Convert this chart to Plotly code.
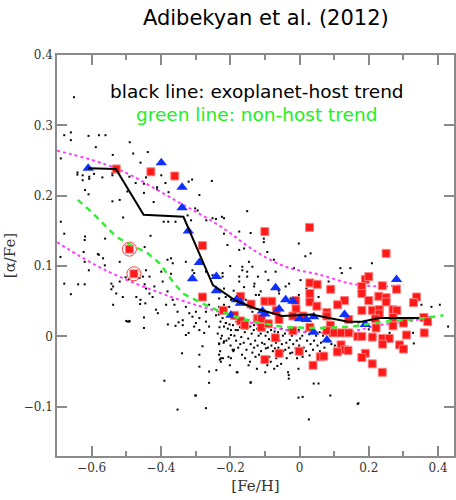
import plotly.graph_objects as go

# ---- data ----
host_trend_x = [-0.61, -0.53, -0.45, -0.335, -0.25, -0.185, -0.13, -0.05, 0.035, 0.14, 0.18, 0.23, 0.345]
host_trend_y = [0.239, 0.238, 0.173, 0.170, 0.073, 0.051, 0.040, 0.029, 0.031, 0.021, 0.021, 0.026, 0.026]

nonhost_trend_x = [-0.64, -0.596, -0.53, -0.48, -0.443, -0.404, -0.366, -0.337, -0.289, -0.241,
                   -0.174, -0.122, -0.04, 0.055, 0.151, 0.247, 0.343, 0.415]
nonhost_trend_y = [0.194, 0.175, 0.142, 0.128, 0.120, 0.104, 0.078, 0.061, 0.049, 0.038,
                   0.026, 0.020, 0.013, 0.012, 0.014, 0.021, 0.025, 0.030]

upper_env_x = [-0.70, -0.53, -0.35, -0.23, -0.13, -0.04, 0.055, 0.15, 0.23, 0.30]
upper_env_y = [0.264, 0.239, 0.191, 0.157, 0.122, 0.099, 0.088, 0.075, 0.071, 0.073]

lower_env_x = [-0.70, -0.56, -0.37, -0.22, -0.13, -0.04, 0.055, 0.15, 0.23, 0.30, 0.38]
lower_env_y = [0.134, 0.094, 0.056, 0.033, 0.018, 0.009, 0.005, 0.007, 0.016, 0.020, 0.028]

host_tri_x = [-0.61, -0.399, -0.339, -0.339, -0.321, -0.289, -0.309, -0.240, -0.240, -0.198, -0.170,
              -0.069, -0.040, -0.019, -0.182, -0.169, -0.107, -0.100, -0.059, 0.000, 0.020, 0.041,
              0.130, 0.280, 0.041, 0.079, 0.190]
host_tri_y = [0.239, 0.247, 0.212, 0.183, 0.150, 0.105, 0.082, 0.085, 0.065, 0.030, 0.047,
              0.069, 0.052, 0.050, 0.052, 0.048, 0.036, 0.032, 0.039, 0.025, 0.024, 0.028,
              0.031, 0.081, 0.006, -0.005, 0.017]

host_sq_x = [-0.529, -0.429, -0.360, -0.280, -0.491, -0.478, -0.280, -0.220, -0.170, -0.140, -0.188,
             -0.170, -0.158, -0.122, 0.029, -0.100, 0.250, 0.190, 0.200, 0.030, 0.051, 0.090, 0.180,
             0.180, 0.239, 0.280, 0.030, 0.229, 0.250, 0.250, 0.338, 0.329, 0.130, 0.200, -0.100,
             -0.080, -0.011, 0.030, 0.110, 0.050, -0.010, 0.180, 0.210, 0.230, 0.230, 0.270, 0.281,
             0.079, 0.079, -0.067, -0.019, 0.010, -0.059, 0.142, 0.219, 0.270, 0.359, 0.370, -0.120,
             -0.110, -0.110, -0.090, -0.019, 0.030, 0.089, 0.079, 0.221, 0.270, 0.300, 0.100, 0.121,
             0.142, 0.168, 0.180, 0.210, 0.240, 0.259, 0.240, 0.309, 0.360, -0.070, 0.120, 0.130,
             0.140, 0.109, 0.289, 0.300, -0.001, -0.059, 0.190, 0.060, 0.070, 0.180, -0.100, 0.210,
             0.039, 0.239]
host_sq_y = [0.238, 0.234, 0.228, 0.129, 0.124, 0.089, 0.056, 0.037, 0.057, 0.046, 0.030,
             0.022, 0.016, 0.025, 0.155, 0.149, 0.118, 0.081, 0.085, 0.076, 0.074, 0.067, 0.071,
             0.061, 0.072, 0.067, 0.061, 0.057, 0.055, 0.049, 0.056, 0.048, 0.051, 0.051, 0.050,
             0.050, 0.051, 0.049, 0.045, 0.043, 0.039, 0.037, 0.037, 0.038, 0.032, 0.038, 0.037,
             0.034, 0.029, 0.037, 0.029, 0.029, 0.024, 0.024, 0.025, 0.027, 0.027, 0.021, 0.025,
             0.025, 0.013, 0.018, 0.008, 0.013, 0.016, 0.008, 0.012, 0.015, 0.019, 0.005, 0.005,
             0.005, 0.000, 0.000, -0.001, -0.003, -0.003, -0.011, 0.002, 0.005, -0.002, -0.012, -0.019,
             -0.020, -0.022, -0.012, -0.018, -0.021, -0.024, -0.024, -0.029, -0.028, -0.030, -0.033, -0.039,
             -0.041, -0.051]

circled_x = [-0.491, -0.478]
circled_y = [0.124, 0.089]

field_x = [
    -0.679, -0.660, -0.660, -0.609, -0.579, -0.560, -0.490, -0.588, -0.689, -0.539, -0.480, -0.438, -0.459,
    -0.641, -0.641, -0.626, -0.626, -0.607, -0.607, -0.593, -0.569, -0.540, -0.540, -0.491, -0.473, -0.443,
    -0.449, -0.399, -0.387, -0.411, -0.411, -0.378, -0.320, -0.310, -0.253, -0.497, -0.449, -0.619, -0.609,
    -0.540, -0.519, -0.421, -0.289, -0.301, -0.269, -0.241, -0.224, -0.151, -0.392, -0.379, -0.358, -0.509,
    -0.689, -0.679, -0.619, -0.561, -0.430, -0.651, -0.620, -0.690, -0.623, -0.608, -0.579,
    -0.620, -0.582, -0.567, -0.562, -0.519, -0.679, -0.639, -0.620, -0.660, -0.543, -0.538, -0.543, -0.519,
    -0.529, -0.502, -0.493, -0.462, -0.452, -0.447, -0.443, -0.419, -0.433, -0.424, -0.395, -0.381, -0.510,
    -0.471, -0.459, -0.445, -0.385, -0.366, -0.361, -0.414, -0.352, -0.328, -0.318, -0.299, -0.270, -0.261,
    -0.241, -0.218, -0.198, -0.155, -0.136, -0.491, -0.496, -0.309, -0.289, -0.270, -0.213, -0.151, -0.131,
    -0.447, -0.381, -0.371, -0.366, -0.399, -0.371, -0.433, -0.443, -0.328, -0.309, -0.304, -0.270, -0.251,
    -0.218, -0.174, -0.151, -0.151, -0.131, -0.126, -0.174, -0.146, -0.165, -0.323, -0.313, -0.294, -0.251,
    -0.218, -0.218, -0.208, -0.174,
    -0.141, -0.002, 0.032, -0.160, -0.093, -0.103, -0.103, -0.074, 0.017, -0.222, -0.222, -0.174, -0.165,
    -0.136, -0.098, -0.069, -0.016, -0.040, 0.003, 0.118, 0.122, 0.147, 0.209, 0.190, 0.099, 0.084, 0.055,
    -0.002, -0.026, -0.059, -0.117, -0.112, -0.141, -0.141, -0.213, -0.203, -0.232, -0.232, 0.352, 0.381,
    0.405, 0.429, 0.328, 0.352, 0.300,
    -0.233, -0.228, -0.231, -0.236, -0.227, -0.232, -0.229,
    -0.222, -0.218, -0.224, -0.219, -0.221,
    -0.212, -0.207, -0.211,
    -0.202, -0.198, -0.204, -0.199, -0.201,
    -0.192, -0.188, -0.191,
    -0.182, -0.178, -0.183, -0.177, -0.181,
    -0.172, -0.168, -0.171, -0.166,
    -0.162, -0.158, -0.161, -0.157,
    -0.152, -0.148, -0.153, -0.147,
    -0.142, -0.138, -0.141, -0.136, -0.143,
    -0.132, -0.128, -0.131, -0.127,
    -0.122, -0.118, -0.121, -0.117, -0.123,
    -0.112, -0.108, -0.111, -0.106,
    -0.102, -0.098, -0.101, -0.097, -0.103, -0.099,
    -0.092, -0.088, -0.091, -0.087, -0.093,
    -0.082, -0.078, -0.081, -0.077, -0.083,
    -0.072, -0.068, -0.071, -0.067, -0.073,
    -0.062, -0.058, -0.061, -0.057,
    -0.052, -0.048, -0.051, -0.047, -0.053,
    -0.042, -0.038, -0.041, -0.037,
    -0.032, -0.028, -0.031, -0.027, -0.033,
    -0.022, -0.018, -0.021,
    -0.012, -0.008, -0.011, -0.007,
    -0.002, 0.002, -0.001, 0.003, -0.003,
    0.008, 0.012, 0.009,
    0.018, 0.022, 0.019,
    0.028, 0.032, 0.029,
    0.038, 0.042, 0.039,
    0.048, 0.052,
    0.058, 0.062, 0.059,
    0.068, 0.072,
    0.078, 0.082,
    0.088, 0.092,
    0.098, 0.102,
    0.118, 0.122,
    0.14,
    0.170, 0.027, -0.003, -0.031, -0.031, 0.055, -0.064, -0.179, -0.141, -0.230, -0.193,
    -0.538, -0.460, -0.409, -0.500, -0.491, -0.449, -0.449, -0.380, -0.358, -0.349, -0.337, -0.337, -0.328,
    -0.320, -0.339, -0.289, -0.289, -0.280, -0.390, -0.301, -0.261, -0.261, -0.240, -0.352, -0.270, -0.232,
    -0.227, -0.227, -0.205, -0.198, -0.189, -0.304, -0.299, -0.289, -0.275, -0.261, -0.232, -0.218, -0.198,
    -0.184,
    -0.141, -0.299, 0.041, 0.009, 0.089, 0.168,
    0.17, 0.20, 0.22, 0.26, 0.30, 0.33,
    -0.19, -0.16, -0.13, -0.09, -0.06, -0.03, 0.02, 0.06, -0.20, -0.12,
]
field_y = [
    0.286, 0.290, 0.279, 0.285, 0.286, 0.286, 0.276, 0.269, 0.253, 0.258, 0.260, 0.262, 0.247,
    0.233, 0.230, 0.229, 0.222, 0.227, 0.224, 0.231, 0.226, 0.232, 0.229, 0.227, 0.218, 0.226,
    0.217, 0.229, 0.218, 0.212, 0.209, 0.205, 0.220, 0.223, 0.221, 0.206, 0.204, 0.208, 0.202,
    0.192, 0.194, 0.191, 0.201, 0.182, 0.165, 0.167, 0.170, 0.178, 0.163, 0.163, 0.163, 0.169,
    0.163, 0.146, 0.142, 0.139, 0.143, 0.340, 0.137, 0.113, 0.120, 0.094, 0.116,
    0.106, 0.117, 0.111, 0.101, 0.106, 0.075, 0.074, 0.074, 0.060, 0.075, 0.071, 0.067, 0.078,
    0.061, 0.084, 0.081, 0.083, 0.085, 0.074, 0.068, 0.071, 0.061, 0.056, 0.078, 0.064, 0.056,
    0.056, 0.052, 0.047, 0.045, 0.052, 0.045, 0.038, 0.035, 0.042, 0.033, 0.035, 0.035, 0.045,
    0.030, 0.045, 0.052, 0.052, 0.035, 0.021, 0.021, 0.028, 0.026, 0.021, 0.019, 0.019, 0.016,
    0.127, 0.109, 0.111, 0.104, 0.092, 0.089, 0.085, 0.094, 0.106, 0.094, 0.090, 0.092, 0.087,
    0.068, 0.078, 0.085, 0.092, 0.071, 0.059, 0.123, 0.106, 0.099, 0.172, 0.165, 0.179, 0.168,
    0.168, 0.146, 0.130, 0.149,
    0.147, 0.132, 0.118, 0.125, 0.120, 0.139, 0.134, 0.109, 0.114, 0.090, 0.085, 0.085, 0.094,
    0.099, 0.092, 0.092, 0.097, 0.071, 0.080, 0.097, 0.090, 0.097, 0.104, 0.056, 0.066, 0.078, 0.056,
    0.059, 0.054, 0.061, 0.059, 0.064, 0.047, 0.040, 0.056, 0.042, 0.054, 0.042, 0.045, 0.042,
    0.045, 0.014, 0.005, 0.005, 0.023,
    0.031, 0.021, 0.013, 0.004, -0.003, -0.011, -0.021,
    0.026, 0.014, 0.001, -0.009, -0.031,
    0.019, 0.011, -0.006,
    0.017, 0.009, -0.003, -0.013, -0.041,
    0.016, 0.001, -0.021,
    0.021, 0.009, -0.006, -0.016, -0.051,
    0.013, -0.001, -0.011, -0.026,
    0.017, 0.006, -0.009, -0.031,
    0.011, -0.003, -0.019, -0.041,
    0.014, 0.004, -0.011, -0.023, -0.036,
    0.009, -0.006, -0.016, -0.029,
    0.011, 0.001, -0.013, -0.026, -0.046,
    0.004, -0.009, -0.021, -0.036,
    0.013, 0.001, -0.011, -0.017, -0.031, -0.051,
    0.006, -0.004, -0.016, -0.029, -0.041,
    0.009, -0.003, -0.013, -0.021, -0.036,
    0.007, -0.009, -0.017, -0.031, -0.046,
    0.006, -0.006, -0.016, -0.026,
    0.011, 0.001, -0.011, -0.021, -0.039,
    0.004, -0.009, -0.019, -0.031,
    0.009, -0.005, -0.016, -0.024, -0.051,
    0.001, -0.011, -0.023,
    0.006, -0.006, -0.017, -0.031,
    0.009, -0.003, -0.013, -0.026, -0.046,
    0.001, -0.016, -0.029,
    0.007, -0.006, -0.021,
    0.003, -0.011, -0.027,
    0.009, -0.006, -0.019,
    0.001, -0.013,
    0.006, -0.009, -0.021,
    0.001, -0.016,
    0.007, -0.007,
    0.001, -0.011,
    0.004, -0.013,
    0.001, -0.009,
    0.003,
    -0.095, -0.118, -0.087, -0.055, -0.060, -0.067, -0.042, -0.051, -0.065, -0.033, -0.019,
    0.045, 0.046, 0.033, 0.022, 0.022, 0.027, 0.012, 0.017, 0.015, 0.020, 0.023, 0.016, 0.002,
    0.005, -0.024, -0.026, -0.043, -0.014, -0.063, -0.084, -0.050, -0.066, -0.048, -0.104, -0.102, -0.026,
    -0.031, -0.036, -0.029, -0.031, -0.019, 0.014, 0.019, 0.009, 0.005, 0.014, -0.010, -0.007, 0.002,
    0.009,
    -0.066, -0.084, -0.067, -0.086, -0.084, -0.096,
    0.020, 0.010, 0.000, 0.005, 0.000, -0.010,
    0.065, 0.070, 0.075, 0.080, 0.065, 0.075, 0.068, 0.070, 0.100, 0.085,
]

x_ticks = [-0.6, -0.4, -0.2, 0, 0.2, 0.4]
y_ticks = [-0.1, 0, 0.1, 0.2, 0.3, 0.4]

AX = "#8a8a8a"
fig = go.Figure()

fig.add_trace(go.Scatter(x=field_x, y=field_y, mode="markers",
                         marker=dict(color="black", size=2, symbol="square", line=dict(width=0)),
                         showlegend=False))
fig.add_trace(go.Scatter(x=upper_env_x, y=upper_env_y, mode="lines", line_shape="spline",
                         line=dict(color="#ff3cff", width=2, dash="dot"), showlegend=False))
fig.add_trace(go.Scatter(x=lower_env_x, y=lower_env_y, mode="lines", line_shape="spline",
                         line=dict(color="#ff3cff", width=2, dash="dot"), showlegend=False))
fig.add_trace(go.Scatter(x=host_sq_x, y=host_sq_y, mode="markers",
                         marker=dict(color="#ff1a1a", size=8, symbol="square",
                                     line=dict(color="#ff8080", width=1)), showlegend=False))
fig.add_trace(go.Scatter(x=circled_x, y=circled_y, mode="markers",
                         marker=dict(color="#ff4040", size=14, symbol="circle-open",
                                     line=dict(color="#ff4040", width=1)), showlegend=False))
fig.add_trace(go.Scatter(x=host_tri_x, y=host_tri_y, mode="markers",
                         marker=dict(color="#1030ff", size=10, symbol="triangle-up",
                                     line=dict(width=0)), showlegend=False))
fig.add_trace(go.Scatter(x=nonhost_trend_x, y=nonhost_trend_y, mode="lines",
                         line=dict(color="#33ee33", width=2.5, dash="6px,5px"), showlegend=False))
fig.add_trace(go.Scatter(x=host_trend_x, y=host_trend_y, mode="lines",
                         line=dict(color="black", width=2), showlegend=False))

fig.add_annotation(x=-0.123, y=0.348, xref="x", yref="y", text="black line: exoplanet-host trend",
                   showarrow=False, font=dict(family="DejaVu Sans", size=18.5, color="black"))
fig.add_annotation(x=-0.123, y=0.316, xref="x", yref="y", text="green line: non-host trend",
                   showarrow=False, font=dict(family="DejaVu Sans", size=18.5, color="#22ee22"))

axis_common = dict(showgrid=False, zeroline=False, showline=True, linecolor=AX, linewidth=1.5,
                   mirror="ticks", ticks="inside", ticklen=10, tickwidth=1.5, tickcolor=AX,
                   tickfont=dict(family="DejaVu Serif", size=12, color="#333333"))

fig.update_layout(
    width=456, height=500,
    margin=dict(l=57, r=0, t=55, b=44),
    paper_bgcolor="white", plot_bgcolor="white",
    title=dict(text="Adibekyan et al. (2012)", x=0.583, xanchor="center", y=0.964, yanchor="middle",
               font=dict(family="DejaVu Sans", size=21, color="black")),
    xaxis=dict(range=[-0.70, 0.446], tickvals=x_ticks, ticktext=["−0.6", "−0.4", "−0.2", "0", "0.2", "0.4"],
               minor=dict(dtick=0.1, tick0=0, ticklen=5, tickwidth=1.5, tickcolor=AX, ticks="inside"),
               title=dict(text="[Fe/H]", font=dict(family="DejaVu Serif", size=15, color="#333333"), standoff=6),
               **axis_common),
    yaxis=dict(range=[-0.17, 0.4], tickvals=y_ticks, ticktext=["−0.1", "0", "0.1", "0.2", "0.3", "0.4"],
               title=dict(text="[α/Fe]", font=dict(family="DejaVu Serif", size=15, color="#333333"), standoff=4),
               **axis_common),
)

fig.write_html("out.html")
